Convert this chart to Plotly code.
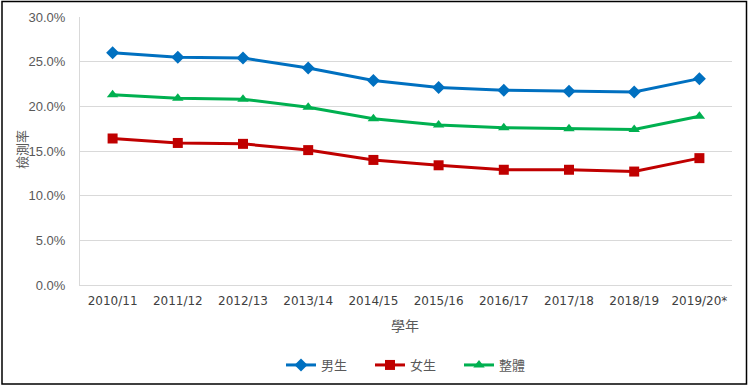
import plotly.graph_objects as go

years = ["2010/11", "2011/12", "2012/13", "2013/14", "2014/15",
         "2015/16", "2016/17", "2017/18", "2018/19", "2019/20*"]
male = [26.0, 25.5, 25.4, 24.3, 22.9, 22.1, 21.8, 21.7, 21.6, 23.1]
female = [16.4, 15.9, 15.8, 15.1, 14.0, 13.4, 12.9, 12.9, 12.7, 14.2]
overall = [21.3, 20.9, 20.8, 19.9, 18.6, 17.9, 17.6, 17.5, 17.4, 18.9]
names = ["男生", "女生", "整體"]

W, H = 751, 389
L, R, T, B = 80, 19, 17, 104
pw, ph = W - L - R, H - T - B

def px(x):
    return (x - L) / pw

def py(y):
    return (H - B - y) / ph

fig = go.Figure()
styles = [
    (male, names[0], "#0070C0", "diamond", 10),
    (female, names[1], "#C00000", "square", 10),
    (overall, names[2], "#00B050", "triangle-up", 10),
]
for vals, nm, col, sym, sz in styles:
    fig.add_trace(go.Scatter(
        x=years, y=[v / 100 for v in vals], name=nm, mode="lines+markers",
        line=dict(color=col, width=3),
        marker=dict(symbol=sym, size=sz, color=col),
    ))

fig.update_layout(
    width=W, height=H,
    margin=dict(l=L, r=R, t=T, b=B, autoexpand=False),
    paper_bgcolor="white", plot_bgcolor="white",
    font=dict(family="DejaVu Sans, Noto Sans CJK TC", color="#595959", size=12),
    showlegend=True,
    legend=dict(orientation="h", x=px(281), xanchor="left", y=py(365), yanchor="middle",
                font=dict(family="Noto Sans CJK TC", size=13, color="#595959"),
                entrywidth=44, entrywidthmode="pixels", itemwidth=30, tracegroupgap=0),
    xaxis=dict(type="category", range=[-0.5, len(years) - 0.5], showgrid=False,
               showline=True, linecolor="#D9D9D9",
               linewidth=1, ticks="", tickfont=dict(size=12, family="DejaVu Sans", color="#404040"),
               ticklabelstandoff=5),
    yaxis=dict(range=[0, 0.30], tickformat=".1%", dtick=0.05, showgrid=True,
               gridcolor="#D9D9D9", gridwidth=1, showline=True, linecolor="#D9D9D9",
               zeroline=False, ticks="", tickfont=dict(size=13, family="Liberation Sans", color="#595959"),
               ticklabelstandoff=11),
    annotations=[
        dict(text="檢測率", x=px(21), y=py(150), xref="paper", yref="paper",
             textangle=-90, showarrow=False, xanchor="center", yanchor="middle",
             font=dict(family="Noto Sans CJK TC", size=13, color="#595959")),
        dict(text="學年", x=px(405), y=py(325), xref="paper", yref="paper",
             showarrow=False, xanchor="center", yanchor="middle",
             font=dict(family="Noto Sans CJK TC", size=14, color="#595959")),
    ],
    shapes=[
        dict(type="rect", xref="paper", yref="paper",
             x0=px(2), x1=px(746.5), y0=py(384), y1=py(1.5),
             line=dict(color="black", width=1.5), layer="above"),
    ],
)

fig.write_html("out.html", post_script="document.body.style.margin='0';",
               config={"displayModeBar": False})
